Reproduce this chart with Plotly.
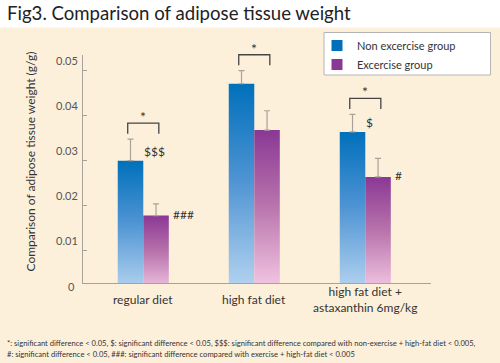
import plotly.graph_objects as go

# ---------------- data ----------------
groups = ["regular diet", "high fat diet", "high fat diet +<br>astaxanthin 6mg/kg"]
series_names = ["Non excercise group", "Excercise group"]
non_exercise = [0.0300, 0.0471, 0.0364]
non_exercise_err = [0.0048, 0.0029, 0.0039]
exercise = [0.0178, 0.0368, 0.0264]
exercise_err = [0.0026, 0.0043, 0.0041]
non_exercise_marks = ["$$$", "", "$"]
exercise_marks = ["###", "", "#"]
pair_marks = ["*", "*", "*"]
y_tick_vals = [0, 0.01, 0.02, 0.03, 0.04, 0.05]
y_tick_text = ["0", "0.01", "0.02", "0.03", "0.04", "0.05"]
title_text = "Fig3. Comparison of adipose tissue weight"
y_title = "Comparison of adipose tissue weight (g/g)"
footnote_lines = [
    "*: significant difference < 0.05, $: significant difference < 0.05, $$$: significant difference compared with non-exercise + high-fat diet < 0.005,",
    "#: significant difference < 0.05, ###: significant difference compared with exercise + high-fat diet < 0.005",
]

# ---------------- style ----------------
FONT = "Lato"
CREAM = "#fdf0db"
AXIS = "#a8a29a"
TXT = "#333333"
BLUE_TOP, BLUE_MID, BLUE_BOT = "#0070bb", "#4d93d3", "#bcd8f2"
PURP_TOP, PURP_MID, PURP_BOT = "#8a3894", "#b873ac", "#f8cfe8"
BAR_W = 0.23

W, H = 500, 363
ML, MR, MT, MB = 83, 69, 55, 80
PW, PH = W - ML - MR, H - MT - MB

y_lo = 0.00282
y_hi = 0.05349


def px_x(px):
    return (px - ML) / PW


def px_y(py):
    return (H - MB - py) / PH


def data_to_paper_y(v):
    return (v - y_lo) / (y_hi - y_lo)


fig = go.Figure()

series = [
    (non_exercise, non_exercise_err, -1, [[0, BLUE_BOT], [0.55, BLUE_MID], [1, BLUE_TOP]], BLUE_TOP),
    (exercise, exercise_err, 1, [[0, PURP_BOT], [0.55, PURP_MID], [1, PURP_TOP]], PURP_TOP),
]

# gradient bars
for vals, errs, side, cscale, solid in series:
    for i, v in enumerate(vals):
        x0 = i if side > 0 else i - BAR_W
        x1 = x0 + BAR_W
        fig.add_trace(go.Scatter(
            x=[x0, x1, x1, x0, x0], y=[0, 0, v, v, 0],
            mode="lines", line=dict(width=0), fill="toself",
            fillgradient=dict(type="vertical", colorscale=cscale, start=0, stop=v),
            showlegend=False, hoverinfo="skip"))

# error bars
for vals, errs, side, cscale, solid in series:
    xs = [i + side * BAR_W / 2 for i in range(len(vals))]
    fig.add_trace(go.Scatter(
        x=xs, y=vals, mode="markers", marker=dict(opacity=0, size=1),
        error_y=dict(type="data", array=errs, arrayminus=[0] * len(errs), symmetric=False,
                     color=AXIS, thickness=1.2, width=3),
        showlegend=False, hoverinfo="skip"))

# legend entries
for name, (vals, errs, side, cscale, solid) in zip(series_names, series):
    fig.add_trace(go.Scatter(x=[None], y=[None], mode="markers", name=name,
                             marker=dict(symbol="square", size=11, color=solid)))

shapes = []
annotations = []

# white header band
shapes.append(dict(type="rect", xref="paper", yref="paper", x0=-0.4, x1=1.4,
                   y0=px_y(27.5), y1=px_y(-5), fillcolor="white", line=dict(width=0), layer="below"))
# legend box
shapes.append(dict(type="rect", xref="paper", yref="paper", x0=px_x(324), x1=px_x(490.5),
                   y0=px_y(75), y1=px_y(32.5), fillcolor="white", line=dict(color="#b5b5b5", width=1),
                   layer="above"))

# significance brackets
for i in range(len(groups)):
    top_val = max(non_exercise[i] + non_exercise_err[i], exercise[i] + exercise_err[i])
    low = data_to_paper_y(top_val + 0.0012)
    high = data_to_paper_y(top_val + 0.0012 + 0.00235)
    xa, xb = i - 0.14, i + 0.14
    shapes.append(dict(type="path", xref="x", yref="paper",
                       path=f"M {xa},{low} L {xa},{high} L {xb},{high} L {xb},{low}",
                       line=dict(color="#444444", width=1.3)))
    annotations.append(dict(x=i, y=high, xref="x", yref="paper", text=pair_marks[i], showarrow=False,
                            xanchor="center", yanchor="bottom", yshift=-4,
                            font=dict(family=FONT, size=14, color=TXT)))

# $ and # marks
for i in range(len(groups)):
    if non_exercise_marks[i]:
        annotations.append(dict(x=i, y=non_exercise[i], xref="x", yref="y", text=non_exercise_marks[i],
                                showarrow=False, xanchor="left", yanchor="middle", yshift=9.5, xshift=-1,
                                font=dict(family=FONT, size=12, color=TXT)))
    if exercise_marks[i]:
        annotations.append(dict(x=i + BAR_W, y=exercise[i], xref="x", yref="y", text=exercise_marks[i],
                                showarrow=False, xanchor="left", yanchor="middle", yshift=1, xshift=2,
                                font=dict(family=FONT, size=12, color=TXT)))

# category labels
for i, g in enumerate(groups):
    annotations.append(dict(x=i, y=0, xref="x", yref="paper", text=g, showarrow=False,
                            xanchor="center", yanchor="middle", yshift=-16,
                            font=dict(family=FONT, size=12, color=TXT)))

# "0" tick label (below the visible axis start)
annotations.append(dict(x=0, y=data_to_paper_y(y_tick_vals[0]), xref="paper", yref="paper",
                        text=y_tick_text[0], showarrow=False,
                        xanchor="right", yanchor="middle", xshift=-6, yshift=9.5,
                        font=dict(family=FONT, size=11, color="#555555")))

# y-axis title
annotations.append(dict(x=px_x(30), y=px_y(161.5), xref="paper", yref="paper", text=y_title,
                        textangle=-90, showarrow=False, xanchor="center", yanchor="middle",
                        font=dict(family=FONT, size=12, color=TXT)))

# footnotes
for k, line in enumerate(footnote_lines):
    annotations.append(dict(x=px_x(5), y=px_y(342.7 + 11.3 * k), xref="paper", yref="paper", text=line,
                            showarrow=False, xanchor="left", yanchor="middle",
                            font=dict(family=FONT, size=7.6, color=TXT)))

fig.update_layout(
    width=W, height=H,
    margin=dict(l=ML, r=MR, t=MT, b=MB),
    paper_bgcolor=CREAM, plot_bgcolor="rgba(0,0,0,0)",
    title=dict(text=title_text, xref="container", yref="container", x=7 / W, xanchor="left",
               y=1 - 13 / H, yanchor="middle", font=dict(family=FONT, size=18.6, color="#222222")),
    showlegend=True,
    legend=dict(x=px_x(317), y=px_y(31), xanchor="left", yanchor="top",
                bgcolor="rgba(0,0,0,0)", borderwidth=0, tracegroupgap=0,
                font=dict(family=FONT, size=11, color=TXT)),
    xaxis=dict(range=[-0.543, 2.592], showgrid=False, zeroline=False, showticklabels=False,
               ticks="", showline=True, linecolor=AXIS, linewidth=1, fixedrange=True),
    yaxis=dict(range=[y_lo, y_hi], showgrid=False, zeroline=False, showline=True,
               linecolor=AXIS, linewidth=1, ticks="inside", ticklen=4, tickcolor=AXIS,
               tickvals=y_tick_vals[1:], ticktext=y_tick_text[1:], ticklabelshift=-10,
               ticklabelstandoff=2, fixedrange=True,
               tickfont=dict(family=FONT, size=11, color="#555555")),
    shapes=shapes,
    annotations=annotations,
)

fig.write_html("out.html", config={"displayModeBar": False},
               post_script="document.body.style.margin='0';")
